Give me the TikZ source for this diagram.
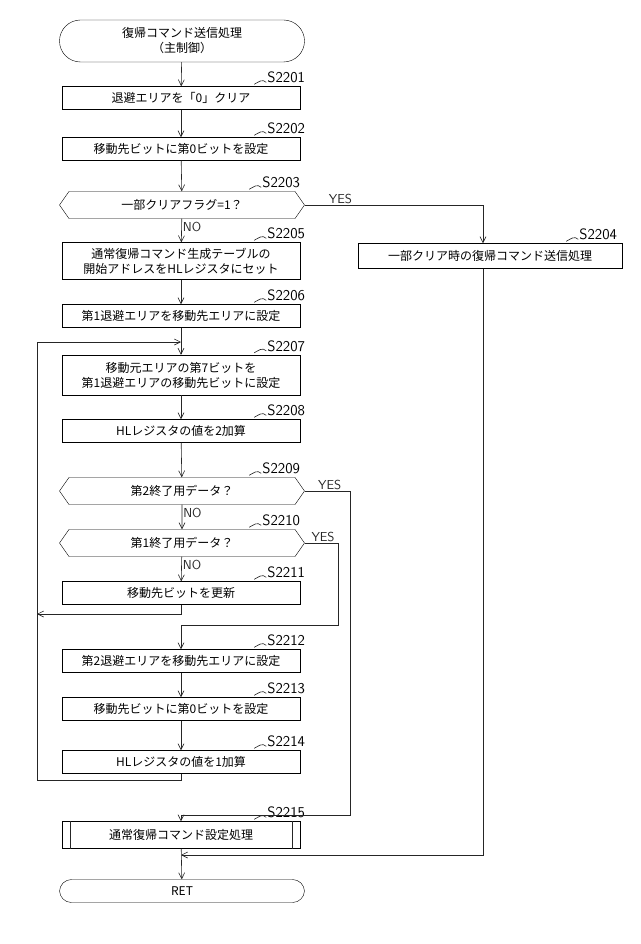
\documentclass[tikz,border=0pt]{standalone}
\usepackage{fontspec}
\newfontfamily\jp{Noto Sans CJK JP}
\usetikzlibrary{shapes.symbols,arrows.meta}
\tikzstyle{block} = [draw, rectangle, minimum width=238pt, minimum height=23pt,
    font=\jp\fontsize{12}{15}\selectfont, align=center, inner sep=1pt]
\tikzstyle{decision} = [draw, signal, signal to=east and west, signal pointer angle=110,
    minimum width=245pt, minimum height=27pt, font=\jp\fontsize{12}{15}\selectfont, inner sep=1pt]
\tikzstyle{term} = [draw, rectangle, rounded corners=12pt, minimum width=245pt,
    minimum height=23pt, font=\jp\fontsize{12}{15}\selectfont, align=center]
\tikzstyle{steplbl} = [font=\fontsize{15}{16}\selectfont\sffamily, inner sep=1pt, anchor=south east]
\tikzstyle{yn} = [font=\fontsize{13}{14}\selectfont\sffamily, inner sep=1pt]
\tikzstyle{line} = [draw, semithick, black!85]
\newcommand{\steplabel}[3]{% box, name, text
  \node [steplbl] (#2) at ([xshift=6pt,yshift=2pt]#1.north east) {#3};
  \draw [line] ([yshift=2pt]#2.south west) .. controls +(-4pt,4pt) and +(4pt,2pt) .. ++(-12pt,-2pt);
}
\begin{document}
\begin{tikzpicture}[x=1pt, y=-1pt, >={Straight Barb[length=6pt,width=6pt]}]
    \useasboundingbox (0,0) rectangle (640,944);
    % main column
    \node [term, minimum height=42pt, rounded corners=21pt] (start) at (182,41) {復帰コマンド送信処理\\（主制御）};
    \node [block] (s2201) at (181,98) {退避エリアを「0」クリア};
    \node [block] (s2202) at (181,149) {移動先ビットに第0ビットを設定};
    \node [decision] (s2203) at (182,205) {一部クリアフラグ=1？};
    \node [block, minimum height=37pt] (s2205) at (181,261) {通常復帰コマンド生成テーブルの\\開始アドレスをHLレジスタにセット};
    \node [block] (s2206) at (181,316) {第1退避エリアを移動先エリアに設定};
    \node [block, minimum height=40pt] (s2207) at (181,375) {移動元エリアの第7ビットを\\第1退避エリアの移動先ビットに設定};
    \node [block] (s2208) at (181,431) {HLレジスタの値を2加算};
    \node [decision] (s2209) at (182,491) {第2終了用データ？};
    \node [decision] (s2210) at (182,543) {第1終了用データ？};
    \node [block] (s2211) at (181,593) {移動先ビットを更新};
    \node [block] (s2212) at (181,661) {第2退避エリアを移動先エリアに設定};
    \node [block] (s2213) at (181,709) {移動先ビットに第0ビットを設定};
    \node [block] (s2214) at (181,762) {HLレジスタの値を1加算};
    \node [block, minimum height=27pt] (s2215) at (181,835) {通常復帰コマンド設定処理};
    \draw [line] ([xshift=8pt]s2215.north west) -- ([xshift=8pt]s2215.south west);
    \draw [line] ([xshift=-8pt]s2215.north east) -- ([xshift=-8pt]s2215.south east);
    \node [term] (ret) at (182,891) {RET};
    % right branch
    \node [block, minimum width=264pt, minimum height=25pt] (s2204) at (490,256) {一部クリア時の復帰コマンド送信処理};

    % step labels
    \steplabel{s2201}{l2201}{S2201}
    \steplabel{s2202}{l2202}{S2202}
    \steplabel{s2203}{l2203}{S2203}
    \steplabel{s2205}{l2205}{S2205}
    \steplabel{s2206}{l2206}{S2206}
    \steplabel{s2207}{l2207}{S2207}
    \steplabel{s2208}{l2208}{S2208}
    \steplabel{s2209}{l2209}{S2209}
    \steplabel{s2210}{l2210}{S2210}
    \steplabel{s2211}{l2211}{S2211}
    \steplabel{s2212}{l2212}{S2212}
    \steplabel{s2213}{l2213}{S2213}
    \steplabel{s2214}{l2214}{S2214}
    \steplabel{s2215}{l2215}{S2215}
    \node [steplbl] (l2204) at ([xshift=-4pt,yshift=2pt]s2204.north east) {S2204};
    \draw [line] ([yshift=2pt]l2204.south west) .. controls +(-4pt,4pt) and +(4pt,2pt) .. ++(-12pt,-2pt);

    % straight flow
    \draw [line,->] (start) -- (s2201);
    \draw [line,->] (s2201) -- (s2202);
    \draw [line,->] (s2202) -- (s2203);
    \draw [line,->] (s2203) -- node [yn, right, pos=0.35] {NO} (s2205);
    \draw [line,->] (s2205) -- (s2206);
    \draw [line,->] (s2206) -- (s2207);
    \draw [line,->] (s2207) -- (s2208);
    \draw [line,->] (s2208) -- (s2209);
    \draw [line,->] (s2209) -- node [yn, right, pos=0.35] {NO} (s2210);
    \draw [line,->] (s2210) -- node [yn, right, pos=0.35] {NO} (s2211);
    \draw [line,->] (s2212) -- (s2213);
    \draw [line,->] (s2213) -- (s2214);
    \draw [line,->] (s2215) -- (ret);

    % YES branches
    \draw [line,->] (s2203.east) -- node [yn, above, pos=0.2] {YES} (483,205) -- (s2204.north -| 483,0);
    \draw [line,->] (s2204.south -| 483,0) -- (483,855) -- (181,855);
    \draw [line,->] (s2209.east) -- node [yn, above, pos=0.55] {YES} (350,491) -- (350,815) -- (181,815) -- (s2215);
    \draw [line,->] (s2210.east) -- node [yn, above, pos=0.55] {YES} (338,543) -- (338,625) -- (181,625) -- (s2212);

    % loop back
    \coordinate (loopl) at (37,614);
    \draw [line,->] (s2211) -- (181,614) -- (loopl);
    \draw [line,->] (s2214) -- (181,780) -- (37,780) -- (37,342) -- (181,342);
\end{tikzpicture}
\end{document}
